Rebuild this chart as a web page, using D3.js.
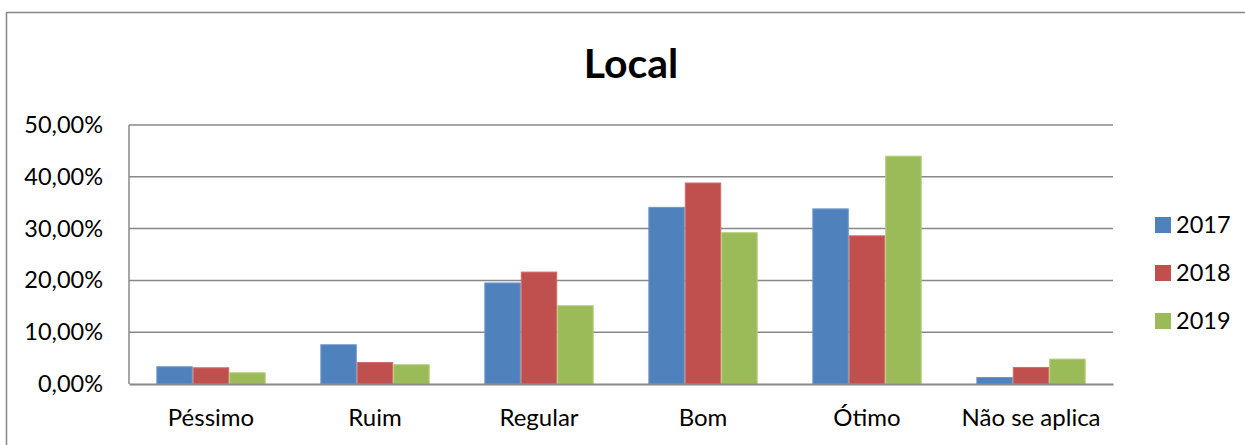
<!DOCTYPE html>
<html>
<head>
<meta charset="utf-8">
<script src="https://cdn.jsdelivr.net/npm/d3@7"></script>
<style>
  html, body { margin: 0; padding: 0; background: #fff; }
  svg { display: block; font-family: Lato, "Open Sans", sans-serif; }
</style>
</head>
<body>
<svg id="chart" width="1245" height="445"></svg>
<script>
// Avaliação do local por ano (percentual de respostas)
const categories = ["Péssimo", "Ruim", "Regular", "Bom", "Ótimo", "Não se aplica"];
const years = ["2017", "2018", "2019"];
const values2017 = [0.0342, 0.0767, 0.196, 0.342, 0.339, 0.0135];
const values2018 = [0.0323, 0.0425, 0.217, 0.389, 0.287, 0.0329];
const values2019 = [0.0226, 0.0381, 0.152, 0.293, 0.4407, 0.049];
const yTicks = [0, 0.1, 0.2, 0.3, 0.4, 0.5];
const colors = ["#4F81BD", "#C0504D", "#9BBB59"];
const strokes = ["#6C97CB", "#D26C69", "#B0CD78"];

const series = [values2017, values2018, values2019];

const svg = d3.select("#chart");
const plot = { left: 129, right: 1113, top: 125, bottom: 384 };

const locale = d3.formatLocale({ decimal: ",", thousands: ".", grouping: [3], currency: ["R$", ""] });
const pct = locale.format(".2%");

// outer frame
svg.append("rect")
  .attr("x", 6.5).attr("y", 12.5)
  .attr("width", 1260).attr("height", 460)
  .attr("fill", "#fff")
  .attr("stroke", "#878787").attr("stroke-width", 1.5);

// title
svg.append("text")
  .attr("x", 631).attr("y", 77.5)
  .attr("text-anchor", "middle")
  .attr("font-size", 41).attr("font-weight", 700)
  .attr("fill", "#000")
  .text("Local");

const x0 = d3.scaleBand()
  .domain(categories)
  .range([plot.left, plot.right])
  .paddingInner(1 / 3)
  .paddingOuter(1 / 6);

const x1 = d3.scaleBand()
  .domain(years)
  .range([0, x0.bandwidth()]);

const y = d3.scaleLinear()
  .domain([0, 0.5])
  .range([plot.bottom, plot.top]);

// horizontal gridlines
svg.append("g")
  .selectAll("line")
  .data(yTicks.filter(t => t > 0))
  .join("line")
  .attr("x1", plot.left).attr("x2", plot.right)
  .attr("y1", d => y(d)).attr("y2", d => y(d))
  .attr("stroke", "#888").attr("stroke-width", 1.5);

// y axis labels
const yAxis = d3.axisLeft(y)
  .tickValues(yTicks)
  .tickFormat(pct)
  .tickSize(0)
  .tickPadding(26);

const gy = svg.append("g")
  .attr("transform", `translate(${plot.left},0)`)
  .call(yAxis);
gy.select(".domain").remove();
gy.selectAll("text")
  .attr("font-size", 23.5)
  .attr("fill", "#000")
  .attr("font-family", "Lato, sans-serif");

// bars
const groups = svg.append("g")
  .selectAll("g")
  .data(categories)
  .join("g")
  .attr("transform", d => `translate(${x0(d)},0)`);

groups.selectAll("rect")
  .data((c, i) => years.map((yr, k) => ({ year: yr, k, v: series[k][i] })))
  .join("rect")
  .attr("x", d => x1(d.year) + 0.5)
  .attr("width", x1.bandwidth() - 1)
  .attr("y", d => y(d.v) + 0.5)
  .attr("height", d => y(0) - y(d.v) - 0.5)
  .attr("fill", d => colors[d.k])
  .attr("stroke", d => strokes[d.k])
  .attr("stroke-width", 1);

// axis lines
svg.append("line")
  .attr("x1", plot.left).attr("x2", plot.left)
  .attr("y1", plot.top).attr("y2", plot.bottom)
  .attr("stroke", "#888").attr("stroke-width", 1.5);

const xAxis = d3.axisBottom(x0).tickSize(0).tickPadding(25);
const gx = svg.append("g")
  .attr("transform", `translate(0,${plot.bottom})`)
  .call(xAxis);
gx.select(".domain")
  .attr("stroke", "#888").attr("stroke-width", 1.8);
gx.selectAll("text")
  .attr("font-size", 24)
  .attr("fill", "#000")
  .attr("font-family", "Lato, sans-serif");

// legend
const legend = svg.append("g")
  .attr("transform", "translate(1155,217)");
const items = legend.selectAll("g")
  .data(years)
  .join("g")
  .attr("transform", (d, i) => `translate(0,${i * 48})`);
items.append("rect")
  .attr("width", 16).attr("height", 16)
  .attr("fill", (d, i) => colors[i]);
items.append("text")
  .attr("x", 21).attr("y", 15.5)
  .attr("font-size", 23.5)
  .attr("fill", "#000")
  .text(d => d);
</script>
</body>
</html>
